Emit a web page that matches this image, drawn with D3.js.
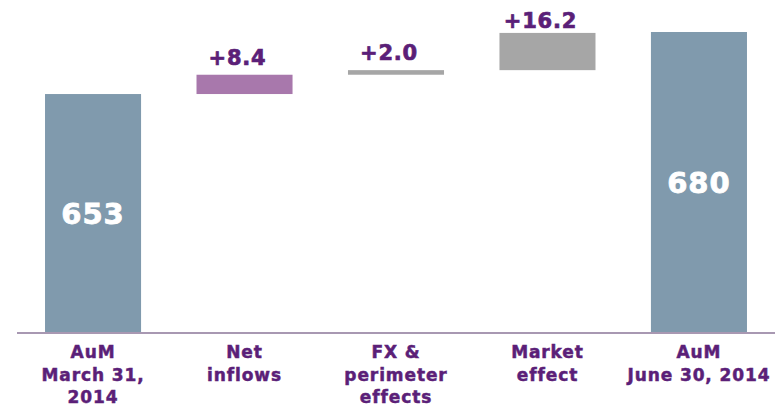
<!DOCTYPE html>
<html><head><meta charset="utf-8">
<script src="https://cdn.jsdelivr.net/npm/d3@7"></script>
<style>body{margin:0;background:#fff}svg{display:block}text{font-family:"DejaVu Sans",Verdana,sans-serif;font-weight:bold}</style>
</head><body><svg id="c" width="775" height="405"></svg>
<script>
const categories = [["AuM","March 31,","2014"],["Net","inflows"],["FX &","perimeter","effects"],["Market","effect"],["AuM","June 30, 2014"]];
const kinds = ["total","delta","delta","delta","total"];
const values = [653, 8.4, 2.0, 16.2, 680];
const labels = ["653","+8.4","+2.0","+16.2","680"];
const colors = ["#809aad","#a878ac","#a6a6a6","#a6a6a6","#809aad"];

const svg = d3.select("#c");
const x = d3.scaleBand().domain(d3.range(values.length)).range([17,775]).paddingInner(0.366).paddingOuter(0.185);
const y = d3.scaleLinear().domain([549,680]).range([333,32]);
const base = y.domain()[0];

let run = 0;
const bars = values.map((v,i)=>{
  let lo, hi;
  if (kinds[i]==="total"){ lo = base; hi = v; run = v; }
  else { lo = run; hi = run + v; run = hi; }
  return {i, lo, hi, v};
});

svg.selectAll("rect.bar").data(bars).join("rect").attr("class","bar")
  .attr("x",d=>x(d.i)).attr("width",x.bandwidth())
  .attr("y",d=>y(d.hi)).attr("height",d=>y(d.lo)-y(d.hi))
  .attr("fill",(d)=>colors[d.i]);

// axis baseline
svg.append("line").attr("x1",17).attr("x2",775).attr("y1",y(base)).attr("y2",y(base))
  .attr("stroke","#a898b2").attr("stroke-width",2);

// total labels inside
svg.selectAll("text.tot").data(bars.filter(d=>kinds[d.i]==="total")).join("text").attr("class","tot")
  .attr("x",d=>x(d.i)+x.bandwidth()/2).attr("y",d=>(y(d.lo)+y(d.hi))/2).attr("dy","0.36em")
  .attr("text-anchor","middle").attr("fill","#fff").attr("stroke","#fff").attr("stroke-width",0.8)
  .attr("letter-spacing",1).attr("font-size",29).text(d=>labels[d.i]);

// delta labels above
svg.selectAll("text.del").data(bars.filter(d=>kinds[d.i]==="delta")).join("text").attr("class","del")
  .attr("x",d=>x(d.i)+x.bandwidth()/2 - 7).attr("y",d=>Math.max(y(d.hi)-10,28))
  .attr("text-anchor","middle").attr("fill","#5b1f78").attr("stroke","#5b1f78").attr("stroke-width",0.7)
  .attr("letter-spacing",0.8).attr("font-size",21).text(d=>labels[d.i]);

// category labels
const g = svg.selectAll("text.cat").data(categories).join("text").attr("class","cat")
  .attr("text-anchor","middle").attr("fill","#5b1f78").attr("stroke","#5b1f78").attr("stroke-width",0.5)
  .attr("letter-spacing",0.9).attr("font-size",17)
  .attr("x",(d,i)=>x(i)+x.bandwidth()/2).attr("y",358);
g.selectAll("tspan").data(d=>d).join("tspan")
  .attr("x",function(){return this.parentNode.getAttribute("x");})
  .attr("dy",(d,j)=>j===0?0:22.5).text(d=>d);
</script></body></html>
